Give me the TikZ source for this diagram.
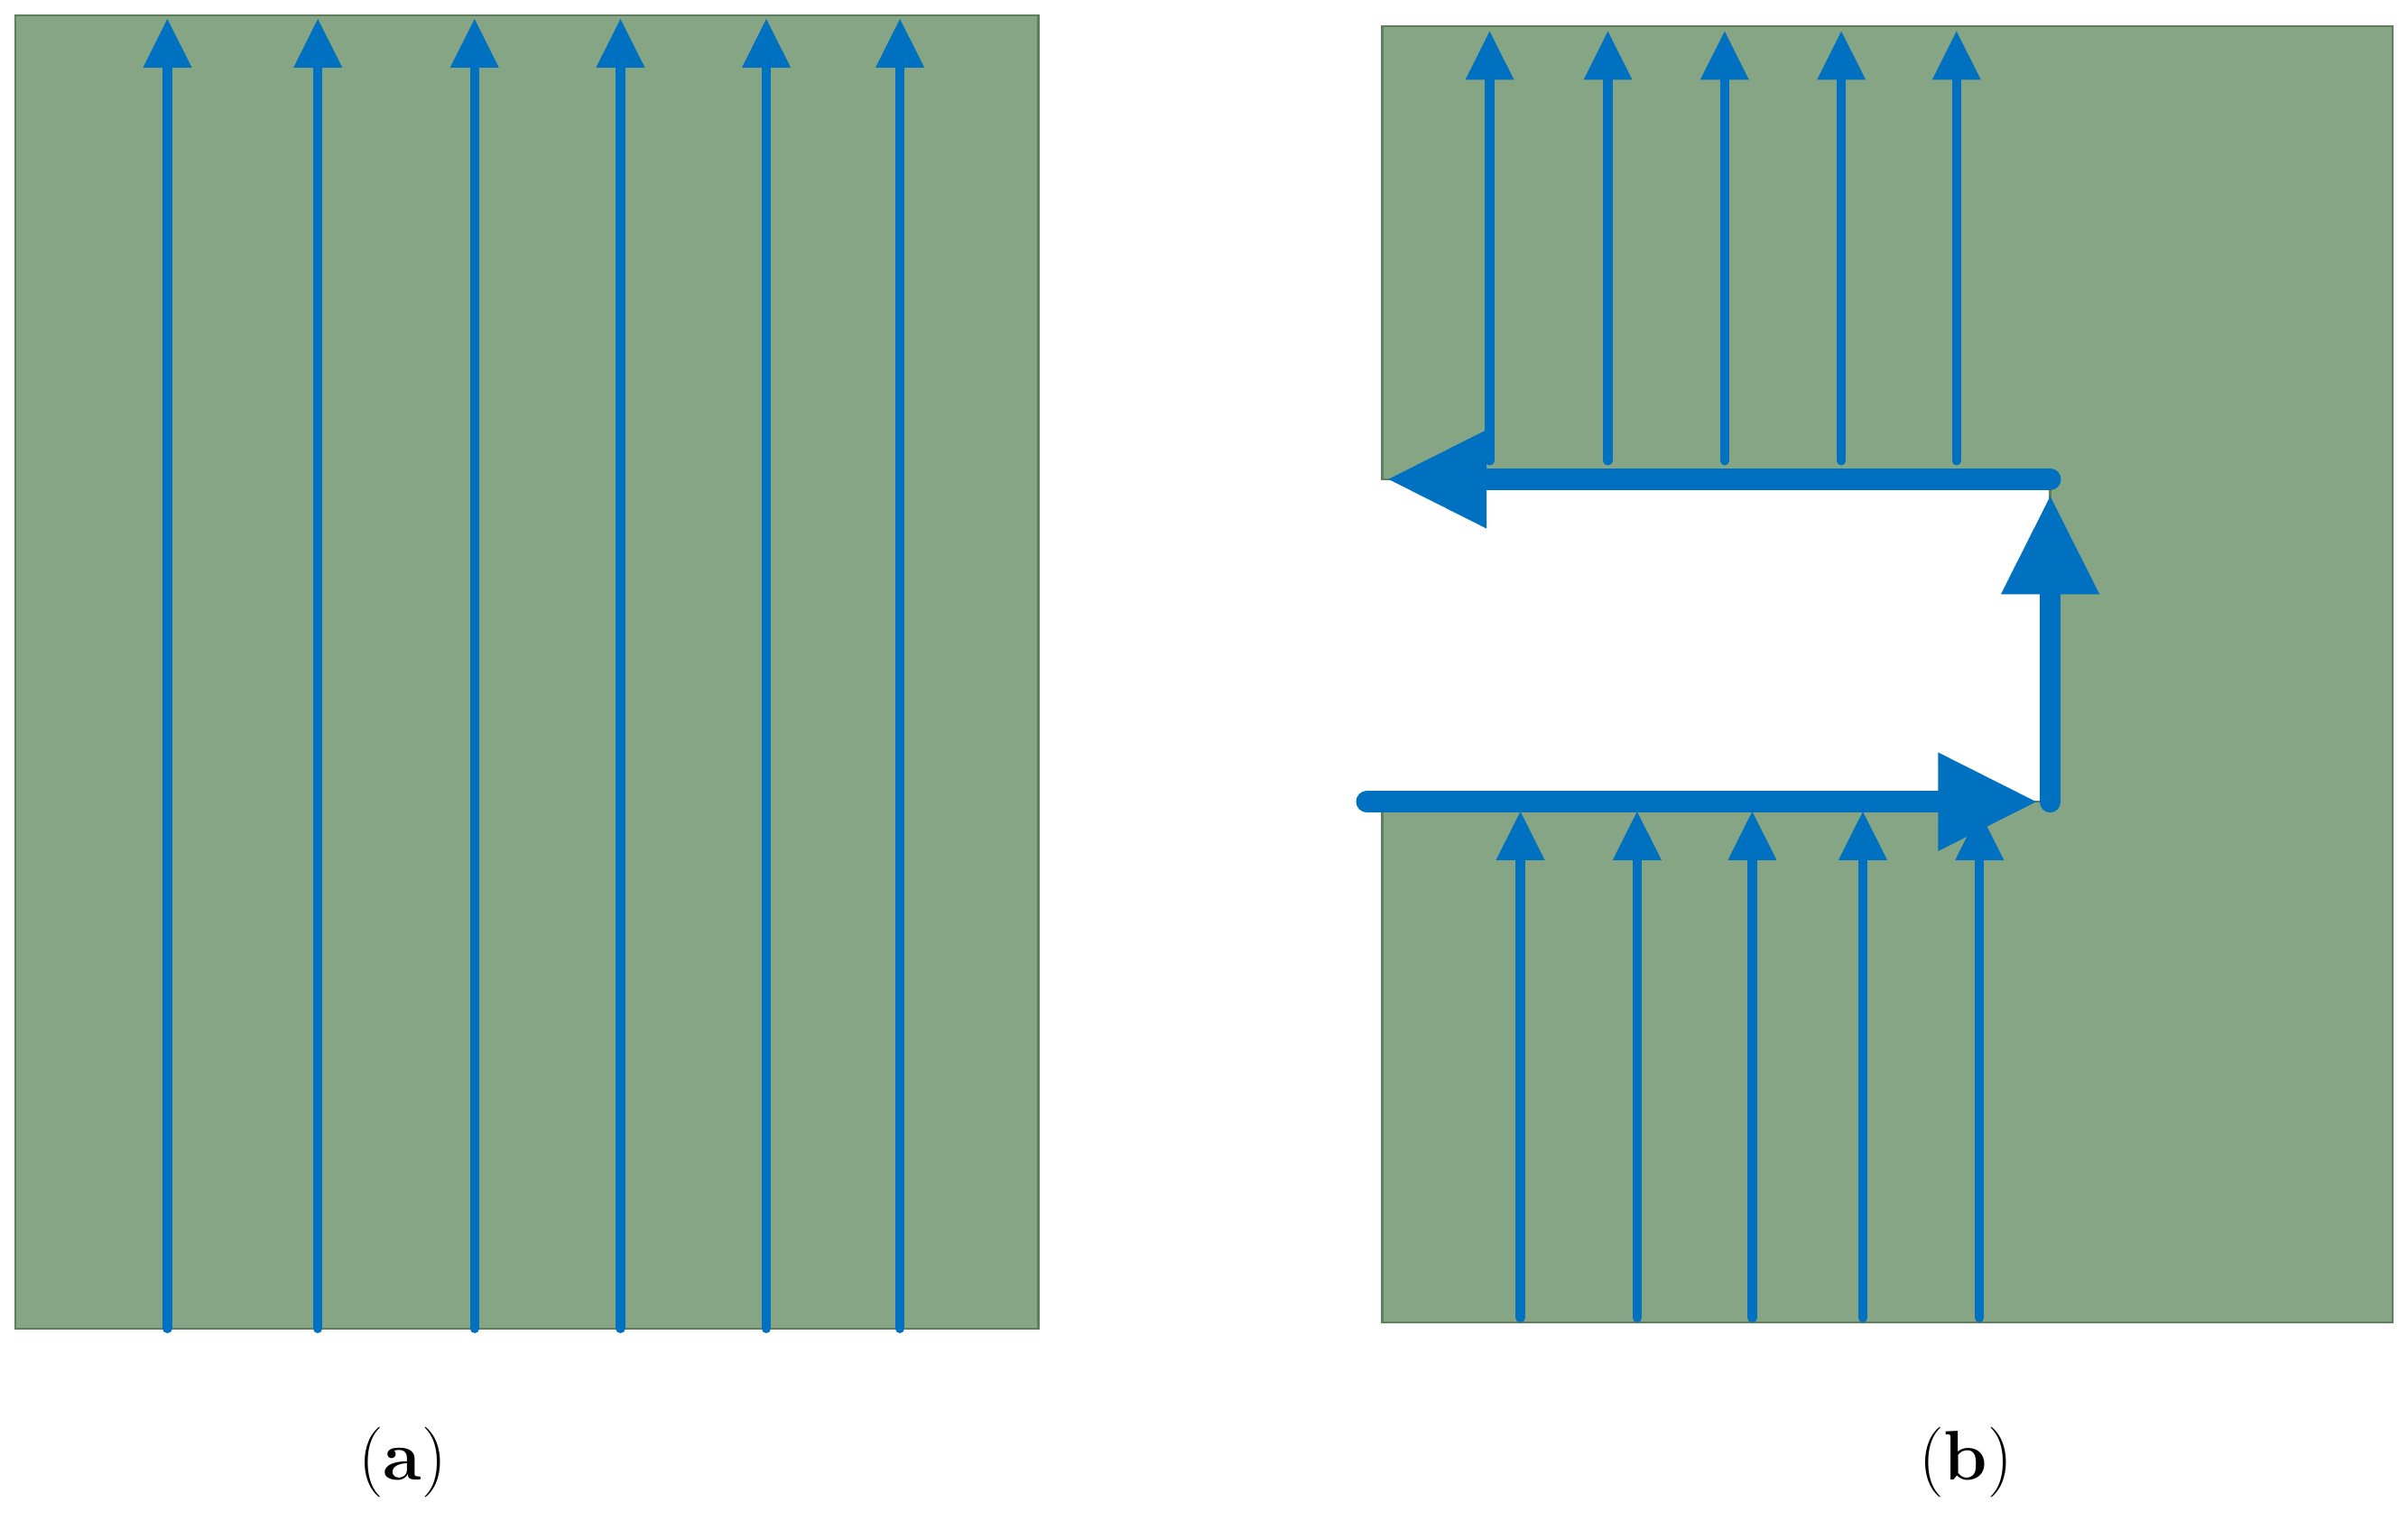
\documentclass[tikz,border=0pt]{standalone}
\usetikzlibrary{arrows.meta}
\definecolor{pgreen}{HTML}{86A584}
\definecolor{pedge}{HTML}{5E7E5C}
\definecolor{fblue}{HTML}{0070C0}
\begin{document}
\begin{tikzpicture}[x=0.02cm,y=-0.02cm,
  thinflow/.style={fblue,line width=0.12cm,line cap=round,-{Triangle[width=0.6cm,length=0.64cm]}},
  thickflow/.style={fblue,line width=0.28cm,line cap=round,-{Triangle[width=1.2cm,length=1.3cm]}},
  panel/.style={fill=pgreen,draw=pedge,line width=0.03cm}]
\useasboundingbox (0,0) rectangle (1568,990);
% panel a
\draw[panel] (10,10) rectangle (676,865);
\foreach \x in {109,207,309,404,499,586} \draw[thinflow] (\x,865) -- (\x,12);
\node[font=\fontsize{26}{30}\selectfont] (la) at (262,952) {(\textbf{a})};
% panel b
\draw[panel] (900,17) -- (1558,17) -- (1558,861) -- (900,861) -- (900,522) -- (1335,522) -- (1335,312) -- (900,312) -- cycle;
\foreach \x in {970,1047,1123,1199,1274} \draw[thinflow] (\x,300) -- (\x,20);
\foreach \x in {990,1066,1141,1213,1289} \draw[thinflow] (\x,858) -- (\x,528);
\draw[thickflow] (890,522) -- (1327,522);
\draw[thickflow] (1335,522) -- (1335,322);
\draw[thickflow] (1335,312) -- (903,312);
\node[font=\fontsize{26}{30}\selectfont] (lb) at (1280,952) {(\textbf{b})};
\end{tikzpicture}
\end{document}
